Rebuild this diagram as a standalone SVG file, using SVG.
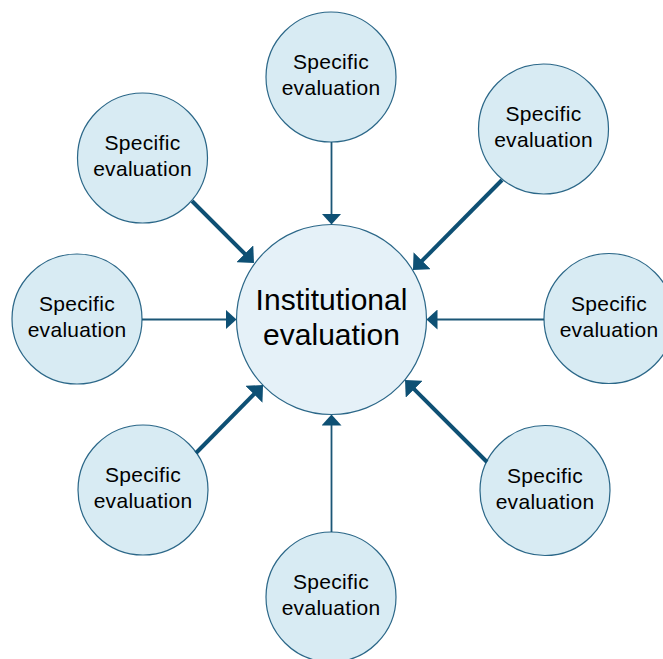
<svg xmlns="http://www.w3.org/2000/svg" width="663" height="659" viewBox="0 0 663 659">
  <style>
    .sat { fill: #d8ebf3; stroke: #2b6788; stroke-width: 1.2; }
    .ctr { fill: #e5f1f8; stroke: #2b6788; stroke-width: 1.2; }
    .st { font-family: "Liberation Sans", Arial, sans-serif; font-size: 21px; letter-spacing: 0.3px; fill: #000; text-anchor: middle; }
    .ct { font-family: "Liberation Sans", Arial, sans-serif; font-size: 30px; fill: #000; text-anchor: middle; }
    .thin { stroke: #1b5676; stroke-width: 1.8; fill: none; }
    .thick { stroke: #0e5074; stroke-width: 4; fill: none; }
  </style>
  <defs>
    <marker id="headThin" markerUnits="userSpaceOnUse" viewBox="0 0 11 20" markerWidth="11" markerHeight="20" refX="3" refY="10" orient="auto">
      <path d="M0,0 L11,10 L0,20 z" fill="#0e5074"/>
    </marker>
    <marker id="headThick" markerUnits="userSpaceOnUse" viewBox="0 0 13 24" markerWidth="13" markerHeight="24" refX="3" refY="12" orient="auto">
      <path d="M0,0 L13,12 L0,24 z" fill="#0e5074"/>
    </marker>
  </defs>
  <rect width="663" height="659" fill="#ffffff"/>

  <g id="center">
    <circle class="ctr" cx="331.5" cy="319.5" r="95"/>
    <text class="ct" x="331.5" y="310">Institutional</text>
    <text class="ct" x="331.5" y="345">evaluation</text>
  </g>
  <g id="sat-top">
    <circle class="sat" cx="331" cy="77" r="65"/>
    <text class="st" x="331" y="69">Specific</text>
    <text class="st" x="331" y="95">evaluation</text>
  </g>
  <g id="sat-topleft">
    <circle class="sat" cx="142.5" cy="158" r="65"/>
    <text class="st" x="142.5" y="150">Specific</text>
    <text class="st" x="142.5" y="176">evaluation</text>
  </g>
  <g id="sat-topright">
    <circle class="sat" cx="543.5" cy="129" r="65"/>
    <text class="st" x="543.5" y="121">Specific</text>
    <text class="st" x="543.5" y="147">evaluation</text>
  </g>
  <g id="sat-left">
    <circle class="sat" cx="77" cy="319" r="65"/>
    <text class="st" x="77" y="311">Specific</text>
    <text class="st" x="77" y="337">evaluation</text>
  </g>
  <g id="sat-right">
    <circle class="sat" cx="609" cy="318.5" r="65"/>
    <text class="st" x="609" y="310.5">Specific</text>
    <text class="st" x="609" y="336.5">evaluation</text>
  </g>
  <g id="sat-bottomleft">
    <circle class="sat" cx="143" cy="490" r="65"/>
    <text class="st" x="143" y="482">Specific</text>
    <text class="st" x="143" y="508">evaluation</text>
  </g>
  <g id="sat-bottomright">
    <circle class="sat" cx="545" cy="490.5" r="65"/>
    <text class="st" x="545" y="482.5">Specific</text>
    <text class="st" x="545" y="508.5">evaluation</text>
  </g>
  <g id="sat-bottom">
    <circle class="sat" cx="331" cy="597" r="65"/>
    <text class="st" x="331" y="589">Specific</text>
    <text class="st" x="331" y="615">evaluation</text>
  </g>

  <g id="connectors">
    <line class="thin" x1="331.5" y1="142" x2="331.5" y2="216.5" marker-end="url(#headThin)"/>
    <line class="thin" x1="142" y1="319.5" x2="228.5" y2="319.5" marker-end="url(#headThin)"/>
    <line class="thin" x1="544" y1="319.5" x2="434.5" y2="319.5" marker-end="url(#headThin)"/>
    <line class="thin" x1="331.5" y1="532" x2="331.5" y2="422.5" marker-end="url(#headThin)"/>
    <line class="thick" x1="192" y1="201" x2="246.9" y2="255.9" marker-end="url(#headThick)"/>
    <line class="thick" x1="502" y1="180" x2="420" y2="262.9" marker-end="url(#headThick)"/>
    <line class="thick" x1="196" y1="453" x2="256" y2="392.1" marker-end="url(#headThick)"/>
    <line class="thick" x1="487" y1="462" x2="412.1" y2="387.1" marker-end="url(#headThick)"/>
  </g>
</svg>
